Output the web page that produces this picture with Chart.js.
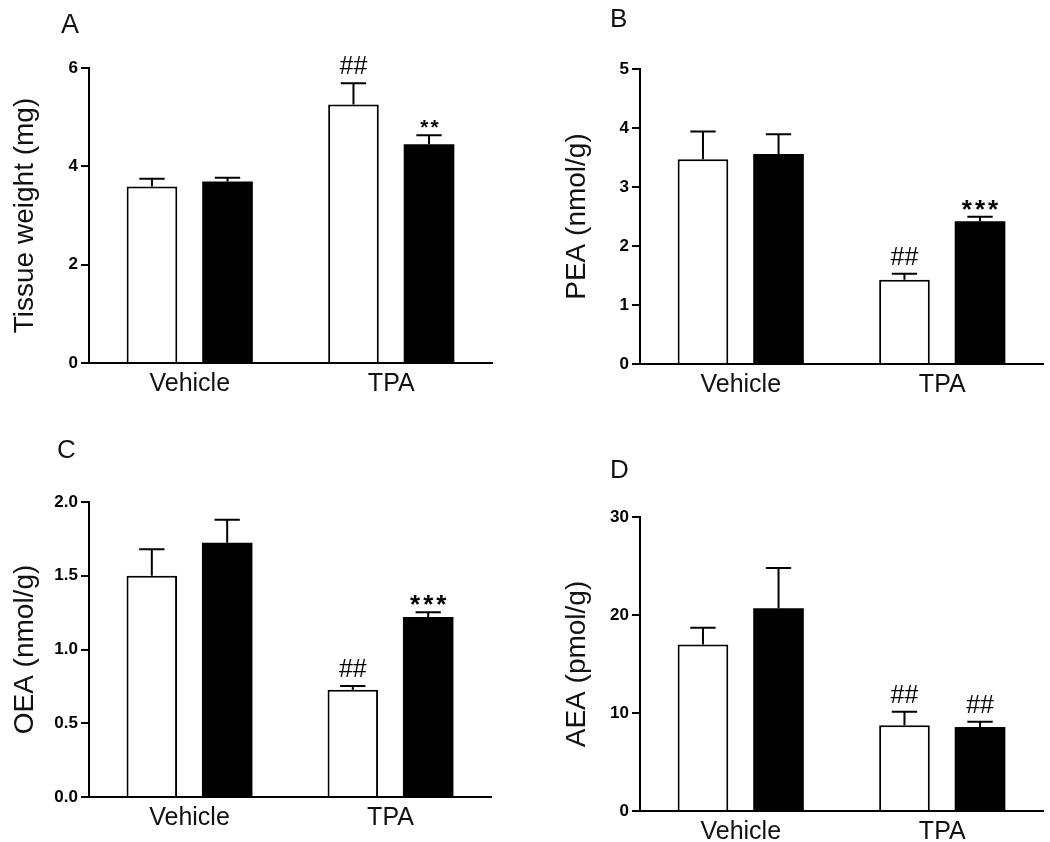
<!DOCTYPE html>
<html><head><meta charset="utf-8">
<script src="https://cdn.jsdelivr.net/npm/chart.js@4"></script>
<style>
html,body{margin:0;padding:0;background:#fff;}
#wrap{position:relative;width:1050px;height:842px;background:#fff;}
.pane{position:absolute;width:525px;height:421px;}
canvas{display:block;}
</style></head><body>
<div id="wrap">
<div class="pane" style="left:0;top:0"><canvas id="cA" width="525" height="421"></canvas></div>
<div class="pane" style="left:525px;top:0"><canvas id="cB" width="525" height="421"></canvas></div>
<div class="pane" style="left:0;top:421px"><canvas id="cC" width="525" height="421"></canvas></div>
<div class="pane" style="left:525px;top:421px"><canvas id="cD" width="525" height="421"></canvas></div>
</div>
<script>
// ---- data ----
const categories = ['Vehicle', 'TPA'];

const tissueWhite = [3.59, 5.26];
const tissueWhiteErr = [0.16, 0.43];
const tissueBlack = [3.69, 4.45];
const tissueBlackErr = [0.08, 0.18];
const tissueWhiteMarks = ['', '##'];
const tissueBlackMarks = ['', '**'];
const tissueTicks = [0, 2, 4, 6];

const peaWhite = [3.47, 1.43];
const peaWhiteErr = [0.47, 0.10];
const peaBlack = [3.56, 2.42];
const peaBlackErr = [0.335, 0.075];
const peaWhiteMarks = ['', '##'];
const peaBlackMarks = ['', '***'];
const peaTicks = [0, 1, 2, 3, 4, 5];

const oeaWhite = [1.50, 0.727];
const oeaWhiteErr = [0.18, 0.026];
const oeaBlack = [1.724, 1.22];
const oeaBlackErr = [0.155, 0.032];
const oeaWhiteMarks = ['', '##'];
const oeaBlackMarks = ['', '***'];
const oeaTicks = ['0.0', '0.5', '1.0', '1.5', '2.0'];

const aeaWhite = [17.0, 8.74];
const aeaWhiteErr = [1.7, 1.39];
const aeaBlack = [20.7, 8.57];
const aeaBlackErr = [4.1, 0.54];
const aeaWhiteMarks = ['', '##'];
const aeaBlackMarks = ['', '##'];
const aeaTicks = [0, 10, 20, 30];

// ---- drawing ----
const FONT = '"Liberation Sans", Arial, Helvetica, sans-serif';

const errorBarPlugin = {
  id: 'errbars',
  afterDatasetsDraw(chart) {
    const ctx = chart.ctx;
    const ys = chart.scales.y;
    chart.data.datasets.forEach((ds, di) => {
      const meta = chart.getDatasetMeta(di);
      meta.data.forEach((bar, i) => {
        const v = ds.data[i], e = ds.errors[i];
        const y0 = ys.getPixelForValue(v);
        const y1 = ys.getPixelForValue(v + e);
        const x = bar.x, half = bar.width / 4;
        ctx.save();
        ctx.strokeStyle = '#000';
        ctx.lineWidth = 2;
        ctx.beginPath();
        ctx.moveTo(x, y0); ctx.lineTo(x, y1);
        ctx.moveTo(x - half, y1); ctx.lineTo(x + half, y1);
        ctx.stroke();
        const mark = ds.marks[i];
        if (mark) {
          const star = mark.indexOf('*') >= 0;
          const size = star ? (mark.length === 2 ? 21 : 26) : 25;
          ctx.font = (star ? 'bold ' : '') + size + 'px ' + FONT;
          ctx.fillStyle = '#000';
          ctx.textAlign = 'center';
          ctx.textBaseline = 'alphabetic';
          if ('letterSpacing' in ctx) ctx.letterSpacing = star ? (mark.length === 2 ? '2px' : '3px') : '0px';
          const gap = 9;
          const base = star ? y1 - gap + 0.38 * size : y1 - gap;
          ctx.fillText(mark, x + (star ? 1.5 : 0), base);
        }
        ctx.restore();
      });
    });
  }
};

const letterPlugin = {
  id: 'panelLetter',
  afterDraw(chart, args, opts) {
    const ctx = chart.ctx;
    ctx.save();
    ctx.font = opts.size + 'px ' + FONT;
    ctx.fillStyle = '#111';
    ctx.textAlign = 'left';
    ctx.textBaseline = 'alphabetic';
    ctx.fillText(opts.text, opts.x, opts.y);
    ctx.restore();
  }
};

function makePanel(id, p) {
  const tickVals = p.ticks.map(Number);
  return new Chart(document.getElementById(id), {
    type: 'bar',
    data: {
      labels: categories,
      datasets: [
        { data: p.white, errors: p.whiteErr, marks: p.whiteMarks,
          backgroundColor: '#fff', borderColor: '#000', borderWidth: 2, borderSkipped: 'bottom' },
        { data: p.black, errors: p.blackErr, marks: p.blackMarks,
          backgroundColor: '#000', borderColor: '#000', borderWidth: 0 }
      ]
    },
    options: {
      responsive: false,
      animation: false,
      devicePixelRatio: 1,
      categoryPercentage: 0.75,
      barPercentage: 0.67,
      layout: { padding: p.pad },
      plugins: {
        legend: { display: false },
        tooltip: { enabled: false },
        panelLetter: p.letter
      },
      scales: {
        x: {
          grid: { display: false, drawTicks: false },
          border: { display: true, color: '#000', width: 2 },
          ticks: { font: { family: FONT, size: 25 }, color: '#111', padding: 6 },
          afterFit: s => { s.height = 30; }
        },
        y: {
          min: tickVals[0], max: tickVals[tickVals.length - 1],
          afterBuildTicks: s => { s.ticks = tickVals.map(v => ({ value: v })); },
          ticks: {
            font: { family: FONT, size: 17, weight: 'bold' }, color: '#000', padding: 3,
            callback: (v, i) => p.ticks[i]
          },
          grid: { display: true, drawOnChartArea: false, drawTicks: true, tickLength: 8, color: '#000', lineWidth: 2 },
          border: { display: true, color: '#000', width: 2 },
          title: { display: true, text: p.title, font: { family: FONT, size: 28 }, color: '#111', padding: 0 },
          afterFit: s => { s.width = p.yWidth; }
        }
      }
    },
    plugins: [errorBarPlugin, letterPlugin]
  });
}

makePanel('cA', {
  white: tissueWhite, whiteErr: tissueWhiteErr, whiteMarks: tissueWhiteMarks,
  black: tissueBlack, blackErr: tissueBlackErr, blackMarks: tissueBlackMarks,
  ticks: tissueTicks, title: 'Tissue weight (mg)',
  pad: { left: 8, right: 33, top: 68, bottom: 28 }, yWidth: 81,
  letter: { text: 'A', x: 61, y: 33, size: 27 }
});
makePanel('cB', {
  white: peaWhite, whiteErr: peaWhiteErr, whiteMarks: peaWhiteMarks,
  black: peaBlack, blackErr: peaBlackErr, blackMarks: peaBlackMarks,
  ticks: peaTicks, title: 'PEA (nmol/g)',
  pad: { left: 35, right: 7, top: 69, bottom: 27 }, yWidth: 80,
  letter: { text: 'B', x: 85, y: 27, size: 26 }
});
makePanel('cC', {
  white: oeaWhite, whiteErr: oeaWhiteErr, whiteMarks: oeaWhiteMarks,
  black: oeaBlack, blackErr: oeaBlackErr, blackMarks: oeaBlackMarks,
  ticks: oeaTicks, title: 'OEA (nmol/g)',
  pad: { left: 8, right: 34, top: 81, bottom: 15 }, yWidth: 81,
  letter: { text: 'C', x: 57, y: 37, size: 26 }
});
makePanel('cD', {
  white: aeaWhite, whiteErr: aeaWhiteErr, whiteMarks: aeaWhiteMarks,
  black: aeaBlack, blackErr: aeaBlackErr, blackMarks: aeaBlackMarks,
  ticks: aeaTicks, title: 'AEA (pmol/g)',
  pad: { left: 35, right: 7, top: 96, bottom: 1 }, yWidth: 80,
  letter: { text: 'D', x: 85, y: 57, size: 26 }
});
</script>
</body></html>
